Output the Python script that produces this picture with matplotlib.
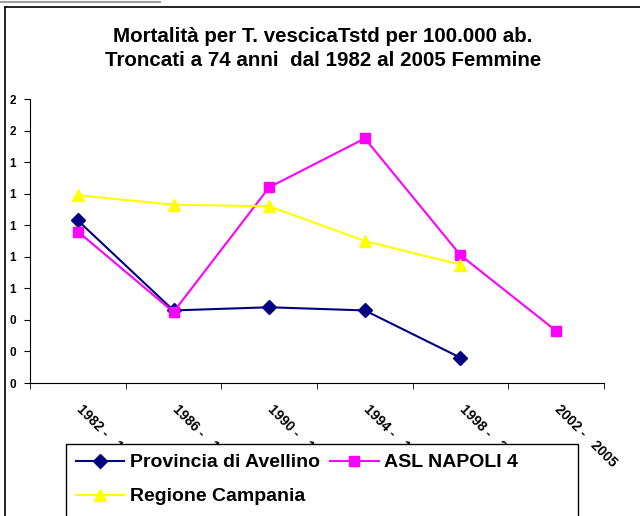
import numpy as np
import matplotlib
matplotlib.use("Agg")
import matplotlib.pyplot as plt
from matplotlib.lines import Line2D
from matplotlib.patches import Rectangle
from matplotlib.ticker import FuncFormatter
from matplotlib.transforms import ScaledTranslation

plt.rcParams['font.family'] = ['Liberation Sans', 'DejaVu Sans']

# dati
periodi = ["1982 -   1985", "1986 -   1989", "1990 -   1993",
           "1994 -   1997", "1998 -   2001", "2002 -   2005"]
avellino = [1.03, 0.46, 0.48, 0.46, 0.16, np.nan]
asl_napoli4 = [0.96, 0.45, 1.24, 1.55, 0.81, 0.33]
campania = [1.19, 1.13, 1.12, 0.90, 0.75, np.nan]
y_ticks = [0.0, 0.2, 0.4, 0.6, 0.8, 1.0, 1.2, 1.4, 1.6, 1.8]

W, H = 640, 516
fig = plt.figure(figsize=(6.4, 5.16), dpi=100)

# bordo del grafico
fig.add_artist(Line2D([5 / W, 1.0], [1 - 7 / H, 1 - 7 / H], color='black', lw=1.2))
fig.add_artist(Line2D([5 / W, 5 / W], [0, 1 - 7 / H], color='black', lw=1.2))
fig.add_artist(Line2D([0, 160 / W], [1 - 1.5 / H, 1 - 1.5 / H], color='#a0a0a0', lw=1.5))

ax = fig.add_axes([30 / W, 1 - 383 / H, 574 / W, 284 / H])

x = np.arange(len(periodi))
l1, = ax.plot(x, avellino, color='#000080', marker='D', markersize=7, lw=1.5,
              label='Provincia di Avellino')
l2, = ax.plot(x, asl_napoli4, color='#FF00FF', marker='s', markersize=7, lw=1.5,
              label='ASL NAPOLI 4')
l3, = ax.plot(x, campania, color='#FFFF00', marker='^', markersize=8, lw=1.5,
              label='Regione Campania')

ax.set_xlim(-0.5, len(periodi) - 0.5)
ax.set_ylim(0, 1.8)
ax.set_yticks(y_ticks)
ax.yaxis.set_major_formatter(FuncFormatter(lambda v, p: f"{v:.0f}"))
ax.tick_params(axis='y', direction='out', length=4, labelsize=8.5, pad=6)
for t in ax.get_yticklabels():
    t.set_fontweight('bold')

ax.set_xticks(x)
ax.set_xticklabels(periodi, rotation=-45, fontsize=10, fontweight='bold',
                   ha='left', va='top', rotation_mode='anchor')
ax.tick_params(axis='x', which='major', length=0, pad=14)
shift = ScaledTranslation(6 / 100, 0, fig.dpi_scale_trans)
for t in ax.get_xticklabels():
    t.set_transform(t.get_transform() + shift)
ax.set_xticks(np.arange(-0.5, len(periodi)), minor=True)
ax.tick_params(axis='x', which='minor', direction='out', length=4)

ax.spines['top'].set_visible(False)
ax.spines['right'].set_visible(False)

fig.text(0.505, 1 - 37 / H, "Mortalità per T. vescicaTstd per 100.000 ab.",
         ha='center', va='center', fontsize=14.8, fontweight='bold')
fig.text(0.505, 1 - 60 / H, "Troncati a 74 anni  dal 1982 al 2005 Femmine",
         ha='center', va='center', fontsize=14.8, fontweight='bold')

# riquadro legenda (tagliato in basso come nell'originale)
box = Rectangle((66 / W, -10 / H), 512 / W, (516 - 444 + 10) / H,
                transform=fig.transFigure, facecolor='white', edgecolor='black',
                lw=1.0, zorder=5)
fig.add_artist(box)

leg = fig.legend([l1, l3, l2], [l1.get_label(), l3.get_label(), l2.get_label()],
                 loc='upper left', bbox_to_anchor=(66 / W, 1 - 444 / H), ncol=2,
                 frameon=False, prop={'weight': 'bold', 'size': 14},
                 handlelength=2.5, borderaxespad=0, columnspacing=0.5,
                 handletextpad=0.3, borderpad=0.5, labelspacing=0.85)
leg.set_zorder(10)

fig.savefig("out.png", dpi=100)
